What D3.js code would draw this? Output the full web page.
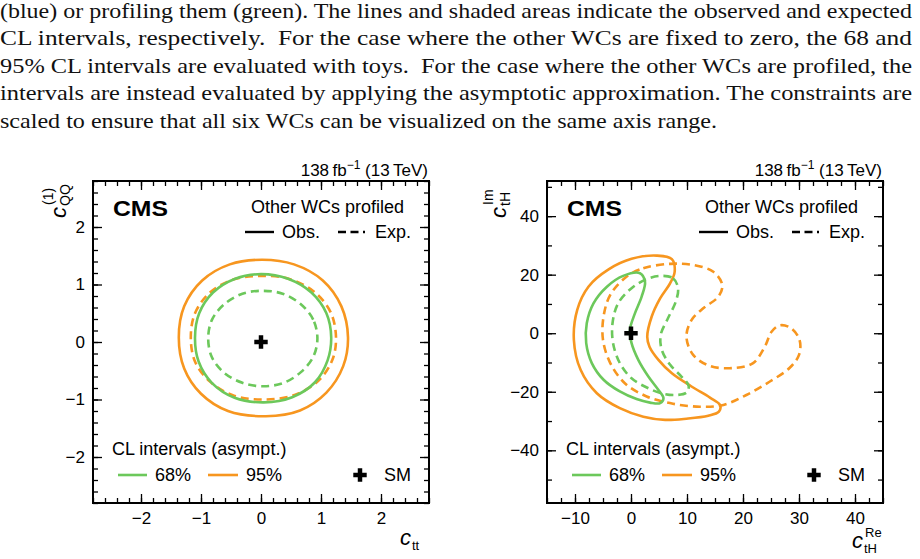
<!DOCTYPE html>
<html>
<head>
<meta charset="utf-8">
<script src="https://cdn.jsdelivr.net/npm/d3@7"></script>
<style>
  body { margin: 0; background: #fff; }
  svg { display: block; }
</style>
</head>
<body>
<script>
// caption text above the figures
const captionLines = [
  '(blue) or profiling them (green). The lines and shaded areas indicate the observed and expected',
  'CL intervals, respectively.  For the case where the other WCs are fixed to zero, the 68 and',
  '95% CL intervals are evaluated with toys.  For the case where the other WCs are profiled, the',
  'intervals are instead evaluated by applying the asymptotic approximation. The constraints are',
  'scaled to ensure that all six WCs can be visualized on the same axis range.'
];

// tick labels
const cttTicks = [-2, -1, 0, 1, 2];
const cqqTicks = [-2, -1, 0, 1, 2];
const cthReTicks = [-10, 0, 10, 20, 30, 40];
const cthImTicks = [-40, -20, 0, 20, 40];

// left panel contours, [c_tt, c_QQ(1)]
const ctt68Obs = [[1.17,0.08],[1.09,0.50],[0.84,0.86],[0.45,1.10],[0.0,1.18],[-0.43,1.10],[-0.80,0.86],[-1.03,0.50],
  [-1.10,0.08],[-1.04,-0.34],[-0.82,-0.71],[-0.44,-0.97],[0.05,-1.05],[0.52,-0.96],[0.90,-0.70],[1.11,-0.32]];
const ctt68Exp = [[0.94,0.06],[0.87,0.39],[0.66,0.66],[0.36,0.84],[0.03,0.89],[-0.31,0.84],[-0.62,0.65],[-0.82,0.38],
  [-0.88,0.06],[-0.82,-0.26],[-0.62,-0.53],[-0.31,-0.71],[0.04,-0.77],[0.38,-0.71],[0.67,-0.52],[0.87,-0.26]];
const ctt95Obs = [[1.45,0.08],[1.34,0.62],[1.03,1.07],[0.55,1.35],[0.02,1.43],[-0.52,1.35],[-0.98,1.07],[-1.28,0.62],
  [-1.37,0.08],[-1.28,-0.46],[-1.00,-0.90],[-0.55,-1.20],[0.08,-1.29],[0.65,-1.19],[1.09,-0.88],[1.37,-0.42]];
const ctt95Exp = [[1.25,0.08],[1.16,0.52],[0.88,0.88],[0.46,1.10],[0.0,1.15],[-0.45,1.09],[-0.85,0.86],[-1.10,0.50],
  [-1.17,0.08],[-1.10,-0.34],[-0.86,-0.68],[-0.46,-0.93],[0.05,-1.0],[0.56,-0.92],[0.96,-0.67],[1.19,-0.31]];

// right panel contours, [c_tH Re, c_tH Im]
const cth68Obs = [[1.6,20.5],[2.5,17.6],[1.9,12.5],[0.7,6.8],[-0.2,1.1],[0.1,-3.4],[1.3,-9.1],[3.1,-14.8],[4.9,-19.4],
  [5.8,-22.2],[5.2,-23.9],[3.4,-23.7],[1.0,-22.5],[-2.0,-19.9],[-4.9,-15.9],[-7.0,-10.2],[-8.0,-3.4],[-7.9,3.4],
  [-6.7,10.2],[-4.3,15.9],[-1.4,19.6]];
const cth68Exp = [[5.2,19.6],[7.5,18.8],[8.4,15.4],[8.0,10.8],[6.6,5.1],[5.3,-0.6],[5.5,-5.7],[7.0,-10.8],[9.0,-14.8],
  [10.3,-18.0],[9.9,-20.3],[8.1,-21.1],[5.8,-20.7],[3.1,-18.8],[0.1,-15.4],[-2.0,-10.2],[-3.2,-3.4],[-3.3,3.4],
  [-2.3,10.2],[0.1,15.4],[2.7,18.4]];
const cth95Obs = [[4.6,26.5],[7.3,25.3],[7.8,21.0],[7.0,17.1],[5.2,11.9],[3.7,5.7],[2.9,-1.2],[3.3,-4.6],[4.9,-9.1],
  [7.3,-13.7],[10.8,-18.2],[14.1,-22.0],[15.9,-24.5],[15.7,-26.8],[13.8,-28.2],[9.9,-29.2],[6.1,-29.6],[2.2,-28.5],
  [-2.0,-25.6],[-6.1,-20.5],[-9.0,-12.5],[-10.2,-2.3],[-9.6,8.0],[-7.6,15.9],[-4.0,21.8],[0.1,25.4]];
const cth95Exp = [[-0.8,19.3],[2.2,22.2],[7.0,23.7],[11.1,23.3],[14.7,21.0],[16.3,16.5],[15.6,12.5],[12.9,8.5],
  [10.8,4.5],[9.9,-1.2],[11.1,-7.4],[14.1,-11.2],[18.2,-11.9],[21.8,-10.2],[23.9,-4.6],[25.1,0.5],[26.6,2.7],
  [28.6,1.7],[30.1,-2.3],[30.0,-7.4],[28.3,-11.9],[24.8,-16.5],[20.6,-21.1],[16.5,-24.5],[12.3,-25.1],[7.5,-24.1],
  [2.8,-21.6],[-1.1,-17.1],[-3.7,-10.2],[-5.0,-2.3],[-4.9,5.7],[-3.7,13.1]];

const green = '#6cc85b', orange = '#f7961f';
const sans = '"Liberation Sans", Arial, Helvetica, sans-serif';
const serif = '"Liberation Serif", "DejaVu Serif", serif';

const svg = d3.select('body').append('svg').attr('width', 920).attr('height', 559);

// caption: justified lines except the last one
const captionTop = 18, captionStep = 27.4;
captionLines.forEach((t, i) => {
  svg.append('text')
    .attr('x', 0).attr('y', captionTop + i * captionStep)
    .attr('font-family', serif).attr('font-size', 22).attr('fill', '#111')
    .style('white-space', 'pre')
    .attr('textLength', i < 4 ? 912 : 717).attr('lengthAdjust', 'spacingAndGlyphs')
    .text(t);
});

const panels = [
  {left: 93, right: 429, top: 181, bottom: 503, xDomain: [-2.8, 2.8], yDomain: [-2.8, 2.8],
   xTicks: cttTicks, yTicks: cqqTicks, xMinor: 0.2, yMinor: 0.2,
   contours: [[ctt95Obs, orange, false], [ctt95Exp, orange, true], [ctt68Obs, green, false], [ctt68Exp, green, true]],
   xLabel: ['tt', null], yLabel: ['QQ', '(1)'], yTitleGap: 27},
  {left: 547, right: 883, top: 181, bottom: 503, xDomain: [-15, 45], yDomain: [-58, 52],
   xTicks: cthReTicks, yTicks: cthImTicks, xMinor: 2.5, yMinor: 10,
   contours: [[cth95Obs, orange, false], [cth95Exp, orange, true], [cth68Obs, green, false], [cth68Exp, green, true]],
   xLabel: ['tH', 'Re'], yLabel: ['tH', 'Im'], yTitleGap: 41}
];

function minorValues(domain, step) {
  const out = [];
  for (let k = Math.ceil(domain[0] / step - 1e-9); k * step <= domain[1] + 1e-9; k++) out.push(+(k * step).toFixed(6));
  return out;
}

function styleAxis(sel) {
  sel.select('.domain').remove();
  sel.selectAll('line').attr('stroke', '#000').attr('stroke-width', 1.3);
  sel.selectAll('text').attr('font-family', sans).attr('font-size', 17).attr('fill', '#000');
}

panels.forEach(p => {
  const g = svg.append('g');
  const x = d3.scaleLinear().domain(p.xDomain).range([p.left, p.right]);
  const y = d3.scaleLinear().domain(p.yDomain).range([p.bottom, p.top]);
  const fmt = d3.format('d');

  // contours
  const line = d3.line().x(d => x(d[0])).y(d => y(d[1])).curve(d3.curveCatmullRomClosed.alpha(0.5));
  p.contours.forEach(([pts, col, dashed]) => {
    g.append('path').attr('d', line(pts)).attr('fill', 'none')
      .attr('stroke', col).attr('stroke-width', 2.6)
      .attr('stroke-dasharray', dashed ? '8,5' : null);
  });

  // SM point
  g.append('path').attr('d', d3.symbol(d3.symbolCross, 100)())
    .attr('transform', `translate(${x(0)},${y(0)})`).attr('fill', '#000');

  // axes: ticks point inward on all four sides
  const xMin = minorValues(p.xDomain, p.xMinor), yMin = minorValues(p.yDomain, p.yMinor);
  g.append('g').attr('transform', `translate(0,${p.bottom})`)
    .call(d3.axisBottom(x).tickValues(p.xTicks).tickSize(-9).tickPadding(9).tickFormat(fmt)).call(styleAxis);
  g.append('g').attr('transform', `translate(0,${p.bottom})`)
    .call(d3.axisBottom(x).tickValues(xMin).tickSize(-5).tickFormat('')).call(styleAxis);
  g.append('g').attr('transform', `translate(0,${p.top})`)
    .call(d3.axisTop(x).tickValues(p.xTicks).tickSize(-9).tickFormat('')).call(styleAxis);
  g.append('g').attr('transform', `translate(0,${p.top})`)
    .call(d3.axisTop(x).tickValues(xMin).tickSize(-5).tickFormat('')).call(styleAxis);
  g.append('g').attr('transform', `translate(${p.left},0)`)
    .call(d3.axisLeft(y).tickValues(p.yTicks).tickSize(-9).tickPadding(8).tickFormat(fmt)).call(styleAxis);
  g.append('g').attr('transform', `translate(${p.left},0)`)
    .call(d3.axisLeft(y).tickValues(yMin).tickSize(-5).tickFormat('')).call(styleAxis);
  g.append('g').attr('transform', `translate(${p.right},0)`)
    .call(d3.axisRight(y).tickValues(p.yTicks).tickSize(-9).tickFormat('')).call(styleAxis);
  g.append('g').attr('transform', `translate(${p.right},0)`)
    .call(d3.axisRight(y).tickValues(yMin).tickSize(-5).tickFormat('')).call(styleAxis);

  // frame
  g.append('rect').attr('x', p.left).attr('y', p.top)
    .attr('width', p.right - p.left).attr('height', p.bottom - p.top)
    .attr('fill', 'none').attr('stroke', '#000').attr('stroke-width', 2);

  const txt = (tx, ty, s, size, anchor) => g.append('text').attr('x', tx).attr('y', ty)
    .attr('font-family', sans).attr('font-size', size).attr('text-anchor', anchor || 'start').text(s);

  // luminosity label
  const lumi = txt(p.right - 1, p.top - 5, '', 17, 'end');
  lumi.append('tspan').text('138\u2009fb');
  lumi.append('tspan').attr('dy', -7).attr('font-size', 12).text('\u22121');
  lumi.append('tspan').attr('dy', 7).text(' (13\u2009TeV)');

  // CMS label + header legend
  txt(p.left + 20, p.top + 35, 'CMS', 22).attr('font-weight', 'bold')
    .attr('textLength', 55).attr('lengthAdjust', 'spacingAndGlyphs');
  txt(p.right - 25, p.top + 32, 'Other WCs profiled', 18, 'end');
  g.append('line').attr('x1', p.right - 184).attr('x2', p.right - 155)
    .attr('y1', p.top + 51).attr('y2', p.top + 51).attr('stroke', '#000').attr('stroke-width', 2.4);
  txt(p.right - 147, p.top + 57, 'Obs.', 18);
  g.append('line').attr('x1', p.right - 91).attr('x2', p.right - 64)
    .attr('y1', p.top + 51).attr('y2', p.top + 51).attr('stroke', '#000').attr('stroke-width', 2.4)
    .attr('stroke-dasharray', '8,4.5');
  txt(p.right - 54, p.top + 57, 'Exp.', 18);

  // CL legend
  txt(p.left + 19, p.top + 274, 'CL intervals (asympt.)', 18);
  g.append('line').attr('x1', p.left + 25).attr('x2', p.left + 54)
    .attr('y1', p.top + 294).attr('y2', p.top + 294).attr('stroke', green).attr('stroke-width', 2.6);
  txt(p.left + 62, p.top + 300, '68%', 18);
  g.append('line').attr('x1', p.left + 115).attr('x2', p.left + 145)
    .attr('y1', p.top + 294).attr('y2', p.top + 294).attr('stroke', orange).attr('stroke-width', 2.6);
  txt(p.left + 153, p.top + 300, '95%', 18);
  g.append('path').attr('d', d3.symbol(d3.symbolCross, 100)())
    .attr('transform', `translate(${p.left + 267},${p.top + 294})`).attr('fill', '#000');
  txt(p.left + 291, p.top + 300, 'SM', 18);

  // x axis title
  const [xs, xsup] = p.xLabel;
  const xEnd = p.right - 1;
  const xw = xsup ? 18 : 16;
  const xBase = xsup ? 548 : 545;
  txt(xEnd - xw - 12, xBase, 'c', 22).attr('font-style', 'italic');
  txt(xEnd - xw, xBase + 5, xs, 13);
  if (xsup) txt(xEnd - xw + 1, xBase - 11, xsup, 13);

  // y axis title, rotated
  const [ys, ysup] = p.yLabel;
  const yl = g.append('g').attr('transform', `translate(${p.left - p.yTitleGap},${p.top}) rotate(-90)`);
  yl.append('text').attr('x', -37).attr('y', 0).attr('font-family', sans)
    .attr('font-size', 22).attr('font-style', 'italic').text('c');
  yl.append('text').attr('x', -25).attr('y', 4).attr('font-family', sans).attr('font-size', 14).text(ys);
  yl.append('text').attr('x', -24).attr('y', -13).attr('font-family', sans).attr('font-size', 14).text(ysup);
});
</script>
</body>
</html>
